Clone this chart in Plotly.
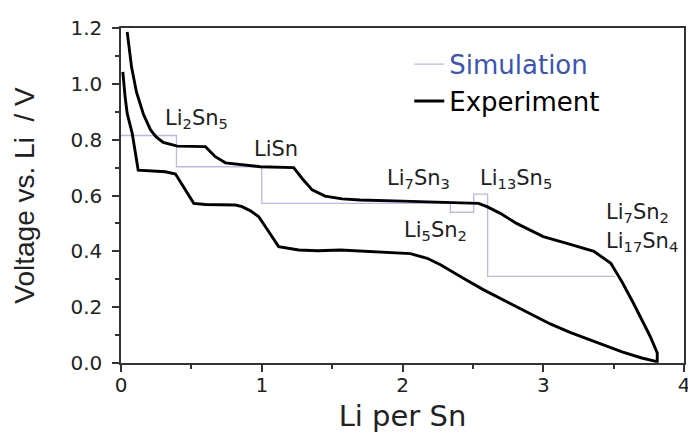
import plotly.graph_objects as go

# Simulation step curve (step points, drawn with hv shape)
sim_x = [0.0, 0.394, 1.0, 2.34, 2.506, 2.605, 3.51]
sim_v = [0.815, 0.703, 0.572, 0.54, 0.605, 0.31, 0.31]

# Experiment: upper branch (left to right)
up_x = [0.044, 0.075, 0.11, 0.16, 0.21, 0.25, 0.30, 0.40, 0.60, 0.67, 0.742,
        0.99, 1.227, 1.287, 1.358, 1.45, 1.571, 1.70, 2.0, 2.34, 2.54, 2.60,
        2.695, 2.81, 3.0, 3.18, 3.36, 3.48, 3.56, 3.64, 3.70, 3.76, 3.81, 3.81]
up_v = [1.186, 1.06, 0.97, 0.89, 0.835, 0.81, 0.79, 0.777, 0.775, 0.739, 0.717,
        0.703, 0.70, 0.661, 0.62, 0.598, 0.588, 0.584, 0.58, 0.576, 0.572, 0.56,
        0.536, 0.50, 0.453, 0.427, 0.40, 0.357, 0.29, 0.215, 0.155, 0.095, 0.036, 0.006]

# Experiment: lower branch (left to right)
lo_x = [0.013, 0.03, 0.044, 0.08, 0.122, 0.20, 0.316, 0.387, 0.42, 0.458, 0.517,
        0.60, 0.813, 0.86, 0.92, 0.979, 1.05, 1.12, 1.263, 1.40, 1.56, 2.056,
        2.175, 2.27, 2.435, 2.577, 2.72, 2.90, 3.05, 3.19, 3.40, 3.56, 3.70, 3.80]
lo_v = [1.043, 0.95, 0.894, 0.822, 0.691, 0.688, 0.685, 0.677, 0.655, 0.62, 0.572,
        0.568, 0.566, 0.56, 0.545, 0.524, 0.47, 0.417, 0.405, 0.402, 0.405, 0.392,
        0.375, 0.352, 0.303, 0.262, 0.225, 0.179, 0.14, 0.11, 0.07, 0.04, 0.018, 0.006]

# Phase labels
lab_text = ["Li<sub>2</sub>Sn<sub>5</sub>", "LiSn", "Li<sub>7</sub>Sn<sub>3</sub>",
            "Li<sub>13</sub>Sn<sub>5</sub>", "Li<sub>5</sub>Sn<sub>2</sub>",
            "Li<sub>7</sub>Sn<sub>2</sub>", "Li<sub>17</sub>Sn<sub>4</sub>"]
lab_x = [0.30, 0.934, 1.878, 2.539, 1.999, 3.434, 3.434]
lab_v = [0.875, 0.768, 0.658, 0.658, 0.474, 0.537, 0.433]

exp_x = up_x + lo_x[::-1]
exp_v = up_v + lo_v[::-1]

FONT = "DejaVu Sans, Arial, sans-serif"
FONT_Y = "Liberation Sans, Arial, sans-serif"
AX = "#333333"
TXT = "#222222"

fig = go.Figure()
fig.add_trace(go.Scatter(
    x=sim_x, y=sim_v, mode="lines", line=dict(color="#b9b9ea", width=1.3, shape="hv"),
    name="<span style='color:#3b55b4'>Simulation</span>"))
fig.add_trace(go.Scatter(
    x=exp_x, y=exp_v, mode="lines", line=dict(color="black", width=2.9),
    name="Experiment"))

for t, x, y in zip(lab_text, lab_x, lab_v):
    fig.add_annotation(x=x, y=y, xref="x", yref="y", text=t, showarrow=False,
                       xanchor="left", yanchor="middle",
                       font=dict(family=FONT, size=21, color=TXT))

fig.update_layout(
    width=688, height=433,
    margin=dict(l=120.5, r=4, t=28, b=70, autoexpand=False),
    paper_bgcolor="white", plot_bgcolor="white",
    font=dict(family=FONT, color=TXT),
    showlegend=True,
    legend=dict(x=0.512, y=0.962, xanchor="left", yanchor="top",
                bgcolor="rgba(0,0,0,0)", font=dict(family=FONT, size=26, color="black"),
                tracegroupgap=0),
)
fig.update_xaxes(
    range=[0, 4], dtick=1, tick0=0, showgrid=False, zeroline=False, automargin=False,
    showline=True, linecolor=AX, linewidth=1.5, mirror=True,
    ticks="outside", ticklen=7, tickwidth=1.5, tickcolor=AX,
    ticklabeloverflow="allow", ticklabelstandoff=-4,
    tickfont=dict(family=FONT, size=20, color=TXT),
    minor=dict(dtick=0.5, ticks="outside", ticklen=4, tickwidth=1.5, tickcolor=AX, showgrid=False),
    title=dict(text="Li per Sn", font=dict(family=FONT, size=29, color=TXT), standoff=18),
)
fig.update_yaxes(
    range=[0, 1.2], dtick=0.2, tick0=0, tickformat=".1f", showgrid=False, zeroline=False,
    automargin=False,
    showline=True, linecolor=AX, linewidth=1.5, mirror=True,
    ticks="outside", ticklen=7, tickwidth=1.5, tickcolor=AX,
    ticklabelstandoff=6,
    tickfont=dict(family=FONT, size=20, color=TXT),
    minor=dict(dtick=0.1, ticks="outside", ticklen=4, tickwidth=1.5, tickcolor=AX, showgrid=False),
    title=dict(text="Voltage vs. Li  / V", font=dict(family=FONT_Y, size=28, color=TXT), standoff=28),
)

fig.write_html("out.html", config={"displayModeBar": False},
               post_script="document.body.style.margin='0';")
